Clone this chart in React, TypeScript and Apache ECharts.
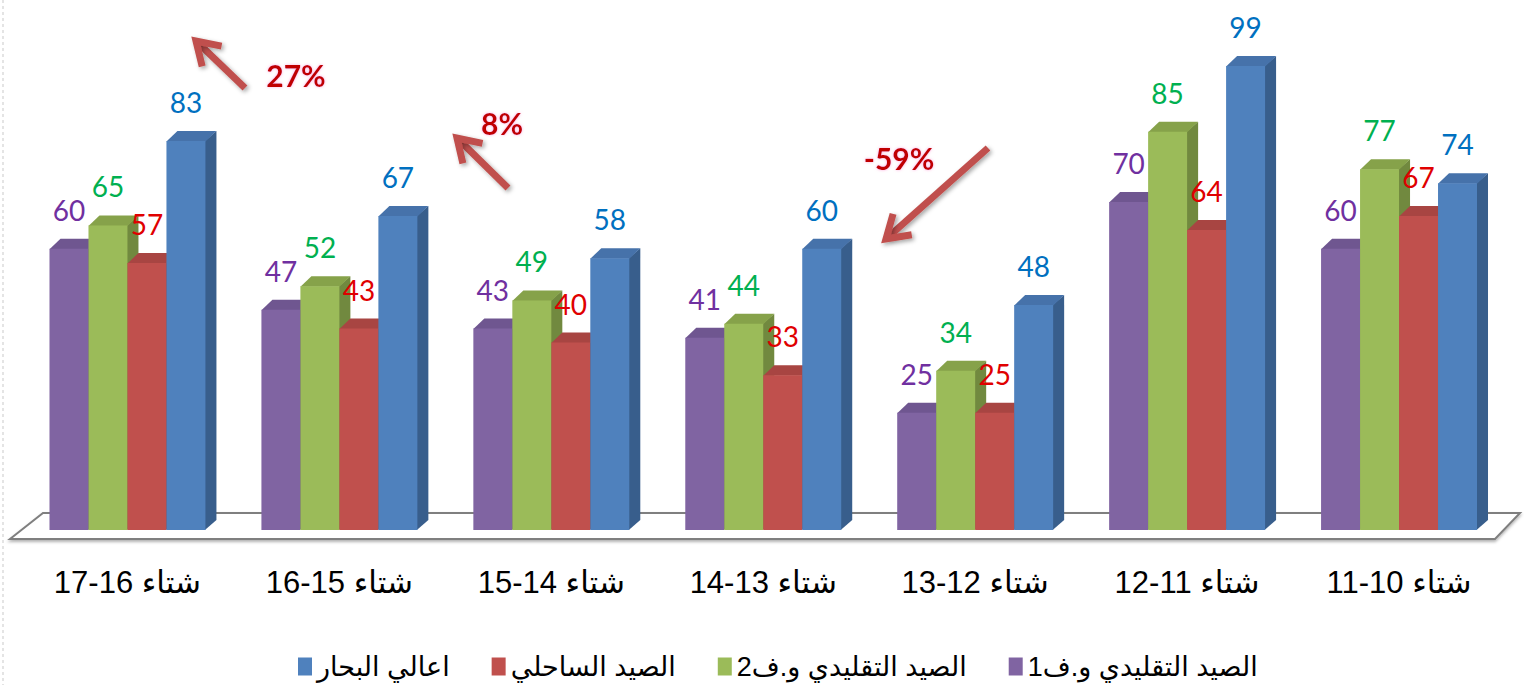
import React, { useEffect, useRef } from "react";
import * as echarts from "echarts";

// ---------- data ----------
const categories = [
  "شتاء 16-17",
  "شتاء 15-16",
  "شتاء 14-15",
  "شتاء 13-14",
  "شتاء 12-13",
  "شتاء 11-12",
  "شتاء 10-11",
];
const seriesNames = [
  "الصيد التقليدي و.ف1",
  "الصيد التقليدي و.ف2",
  "الصيد الساحلي",
  "اعالي البحار",
];
const purpleValues = [60, 47, 43, 41, 25, 70, 60];
const greenValues = [65, 52, 49, 44, 34, 85, 77];
const redValues = [57, 43, 40, 33, 25, 64, 67];
const blueValues = [83, 67, 58, 60, 48, 99, 74];
const changeLabels = ["27%", "8%", "-59%"];

// ---------- styles ----------
const frontColors = ["#8064A2", "#9BBB59", "#C0504D", "#4F81BD"];
const topColors = ["#6F5690", "#86A24A", "#A84542", "#4672AA"];
const sideColors = ["#5C4878", "#71893F", "#8E3A38", "#385E8C"];
const labelColors = ["#7030A0", "#00B050", "#E00000", "#0070C0"];

const DX = 11;
const DY = 10;
const BAR_FRAC = 39 / 212;
const NARROW = "'Liberation Sans Narrow', 'Liberation Sans', 'DejaVu Sans', sans-serif";

const arrows = [
  { from: [245, 88], to: [196, 41], text: changeLabels[0], tx: 296, ty: 75 },
  { from: [508, 188], to: [457, 138], text: changeLabels[1], tx: 502, ty: 123 },
  { from: [988, 148], to: [886, 239], text: changeLabels[2], tx: 899, ty: 158 },
];

function arrowGraphic(a: any) {
  const [x1, y1] = a.from;
  const [x2, y2] = a.to;
  const len = Math.hypot(x2 - x1, y2 - y1);
  const ux = (x2 - x1) / len;
  const uy = (y2 - y1) / len;
  const nx = -uy;
  const ny = ux;
  const L = 22;
  const W = 14;
  const shadow = {
    shadowBlur: 4,
    shadowColor: "rgba(0,0,0,0.35)",
    shadowOffsetX: 2,
    shadowOffsetY: 2,
  };
  return [
    {
      type: "polyline",
      z: 20,
      shape: { points: [[x1, y1], [x2 - ux * 3, y2 - uy * 3]] },
      style: { stroke: "#C0504D", lineWidth: 7, fill: null, ...shadow },
    },
    {
      type: "polyline",
      z: 20,
      shape: {
        points: [
          [x2 - L * ux + W * nx, y2 - L * uy + W * ny],
          [x2, y2],
          [x2 - L * ux - W * nx, y2 - L * uy - W * ny],
        ],
      },
      style: {
        stroke: "#C0504D",
        lineWidth: 7,
        lineJoin: "miter",
        fill: null,
        ...shadow,
      },
    },
    {
      type: "text",
      z: 21,
      style: {
        text: a.text,
        x: a.tx,
        y: a.ty,
        align: "center",
        verticalAlign: "middle",
        fill: "#C00000",
        fontSize: 30,
        fontWeight: "bold",
        fontFamily: "Lato, 'Open Sans', sans-serif",
        textShadowColor: "rgba(255,120,200,0.6)",
        textShadowBlur: 3,
      },
    },
  ];
}

export default function App() {
  const ref = useRef<HTMLDivElement>(null);

  useEffect(() => {
    if (!ref.current) return;
    const chart = echarts.init(ref.current, null, { renderer: "svg" });
    const allValues = [purpleValues, greenValues, redValues, blueValues];

    const series = allValues.map((vals, si) => ({
      type: "custom",
      name: seriesNames[si],
      itemStyle: { color: frontColors[si] },
      encode: { x: 0, y: 1 },
      data: vals.map((v, i) => [i, v]),
      renderItem: (params: any, api: any) => {
        const ci = api.value(0);
        const v = api.value(1);
        const base = api.coord([ci, 0]);
        const top = api.coord([ci, v]);
        const band = api.size([1, 0])[0];
        const bw = band * BAR_FRAC;
        const x0 = base[0] + (si - 2) * bw;
        const x1 = x0 + bw;
        const yb = base[1];
        const yt = top[1];
        return {
          type: "group",
          children: [
            {
              type: "polygon",
              shape: {
                points: [
                  [x1 - 0.5, yt],
                  [x1 + DX, yt - DY],
                  [x1 + DX, yb - DY],
                  [x1 - 0.5, yb],
                ],
              },
              style: { fill: sideColors[si] },
            },
            {
              type: "polygon",
              shape: {
                points: [
                  [x0, yt + 0.5],
                  [x0 + DX, yt - DY],
                  [x1 + DX, yt - DY],
                  [x1, yt + 0.5],
                ],
              },
              style: { fill: topColors[si] },
            },
            {
              type: "rect",
              shape: { x: x0, y: yt, width: bw, height: yb - yt },
              style: { fill: frontColors[si] },
            },
            {
              type: "text",
              style: {
                text: String(v),
                x: x0 + bw / 2,
                y: yt - 39,
                align: "center",
                verticalAlign: "middle",
                fill: labelColors[si],
                fontSize: 28,
                fontFamily: "Lato, 'Open Sans', sans-serif",
              },
            },
          ],
        };
      },
    }));

    chart.setOption({
      animation: false,
      backgroundColor: "#ffffff",
      grid: { left: 21.5, right: 19, top: 61.4, bottom: 155, containLabel: false },
      legend: {
        data: [seriesNames[3], seriesNames[2], seriesNames[1], seriesNames[0]],
        left: 293,
        top: 648,
        icon: "rect",
        itemWidth: 14,
        itemHeight: 18,
        itemGap: 42,
        textStyle: {
          fontSize: 27,
          color: "#000",
          fontFamily: NARROW,
        },
      },
      xAxis: {
        type: "category",
        data: categories,
        axisLine: { show: false },
        axisTick: { show: false },
        axisLabel: {
          margin: 37,
          fontSize: 31,
          lineHeight: 31,
          color: "#000",
          fontFamily: NARROW,
        },
      },
      yAxis: {
        type: "value",
        min: 0,
        max: 100,
        show: false,
        splitLine: { show: false },
      },
      graphic: [
        {
          type: "line",
          z: 0,
          shape: { x1: 3, y1: 0, x2: 3, y2: 685 },
          style: { stroke: "#e4e4e4", lineWidth: 2, lineDash: [3, 3] },
        },
        {
          type: "polygon",
          z: 0,
          shape: {
            points: [
              [10, 539],
              [43, 513],
              [1520, 513],
              [1495, 539],
            ],
          },
          style: {
            fill: "#ffffff",
            stroke: "#7f7f7f",
            lineWidth: 2,
            shadowBlur: 3,
            shadowColor: "rgba(0,0,0,0.3)",
            shadowOffsetY: 2,
          },
        },
        ...arrows.flatMap(arrowGraphic),
      ],
      series,
    });

    return () => chart.dispose();
  }, []);

  return (
    <div
      ref={ref}
      style={{ position: "fixed", left: 0, top: 0, width: 1524, height: 685 }}
    />
  );
}
